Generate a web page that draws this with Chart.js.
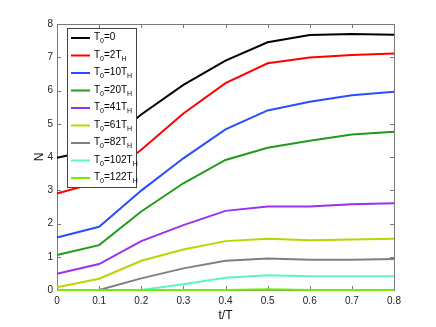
<!DOCTYPE html>
<html><head><meta charset="utf-8">
<script src="https://cdn.jsdelivr.net/npm/chart.js@4"></script>
<style>html,body{margin:0;padding:0;background:#fff}</style></head>
<body>
<canvas id="c" width="436" height="327"></canvas>
<script>
const tValues = [0, 0.1, 0.2, 0.3, 0.4, 0.5, 0.6, 0.7, 0.8];
const xTicks = [0, 0.1, 0.2, 0.3, 0.4, 0.5, 0.6, 0.7, 0.8];
const yTicks = [0, 1, 2, 3, 4, 5, 6, 7, 8];
const legendSub = ['0', '2', '10', '20', '41', '61', '82', '102', '122'];
const N_T0_0   = [3.98, 4.25, 5.28, 6.17, 6.90, 7.45, 7.67, 7.70, 7.68];
const N_T0_2   = [2.90, 3.25, 4.22, 5.31, 6.22, 6.82, 6.99, 7.07, 7.11];
const N_T0_10  = [1.58, 1.90, 2.99, 3.96, 4.83, 5.40, 5.66, 5.86, 5.96];
const N_T0_20  = [1.05, 1.35, 2.36, 3.21, 3.91, 4.28, 4.49, 4.68, 4.76];
const N_T0_41  = [0.49, 0.78, 1.47, 1.95, 2.38, 2.51, 2.51, 2.58, 2.61];
const N_T0_61  = [0.08, 0.34, 0.88, 1.22, 1.47, 1.54, 1.50, 1.52, 1.54];
const N_T0_82  = [0.00, 0.00, 0.35, 0.65, 0.88, 0.95, 0.91, 0.91, 0.93];
const N_T0_102 = [0.00, 0.00, 0.00, 0.17, 0.37, 0.44, 0.41, 0.41, 0.41];
const N_T0_122 = [0.00, 0.00, 0.00, 0.00, 0.00, 0.02, 0.00, 0.00, 0.00];
const seriesList = [N_T0_0, N_T0_2, N_T0_10, N_T0_20, N_T0_41, N_T0_61, N_T0_82, N_T0_102, N_T0_122];
const colors = ['#000000', '#ff0000', '#2a4dff', '#229a1a', '#9a30f0', '#bcd400', '#7f7f7f', '#5ff5c0', '#70f000'];
const FONT = '"Liberation Sans", Arial, sans-serif';

const datasets = seriesList.map((s, i) => ({
  label: legendSub[i],
  data: s.map((v, j) => ({x: tValues[j], y: v})),
  borderColor: colors[i],
  backgroundColor: colors[i],
  borderWidth: 2,
  pointRadius: 0,
  tension: 0,
  fill: false,
  clip: false,
  order: seriesList.length - i
}));

const boxPlugin = {
  id: 'box',
  beforeDatasetsDraw(chart) {
    const ctx = chart.ctx, a = chart.chartArea;
    const xs = chart.scales.x, ys = chart.scales.y;
    ctx.save();
    ctx.strokeStyle = '#7a7a7a';
    ctx.lineWidth = 1;
    ctx.beginPath();
    const L = 4;
    xTicks.forEach(v => {
      const px = Math.round(xs.getPixelForValue(v)) + 0.5;
      ctx.moveTo(px, a.bottom); ctx.lineTo(px, a.bottom - L);
      ctx.moveTo(px, a.top); ctx.lineTo(px, a.top + L);
    });
    yTicks.forEach(v => {
      const py = Math.round(ys.getPixelForValue(v)) + 0.5;
      ctx.moveTo(a.left, py); ctx.lineTo(a.left + L, py);
      ctx.moveTo(a.right, py); ctx.lineTo(a.right - L, py);
    });
    ctx.stroke();
    ctx.strokeRect(Math.round(a.left) + 0.5, Math.round(a.top) + 0.5, Math.round(a.right - a.left), Math.round(a.bottom - a.top));
    ctx.restore();
  },
  afterDatasetsDraw(chart) {
    const ctx = chart.ctx, a = chart.chartArea;
    ctx.save();
    // legend
    const lx = a.left + 10, ly = a.top + 4, lw = 69, lh = 159;
    ctx.fillStyle = '#fff';
    ctx.fillRect(lx, ly, lw, lh);
    ctx.strokeStyle = '#444';
    ctx.lineWidth = 1;
    ctx.strokeRect(Math.round(lx) + 0.5, Math.round(ly) + 0.5, lw, lh);
    chart.data.datasets.forEach((ds, i) => {
      const cy = ly + 10 + i * 17.5;
      ctx.strokeStyle = ds.borderColor;
      ctx.lineWidth = 2;
      ctx.beginPath();
      ctx.moveTo(lx + 4, cy); ctx.lineTo(lx + 23, cy);
      ctx.stroke();
      ctx.fillStyle = '#000';
      ctx.textBaseline = 'alphabetic';
      let x = lx + 27;
      const base = cy + 2;
      const big = '10px ' + FONT, small = '7px ' + FONT;
      ctx.font = big; ctx.fillText('T', x, base); x += ctx.measureText('T').width;
      ctx.font = small; ctx.fillText('0', x, base + 3); x += ctx.measureText('0').width;
      ctx.font = big;
      if (ds.label === '0') {
        ctx.fillText('=0', x, base);
      } else {
        const t = '=' + ds.label + 'T';
        ctx.fillText(t, x, base); x += ctx.measureText(t).width;
        ctx.font = small; ctx.fillText('H', x, base + 3);
      }
    });
    ctx.restore();
  }
};

new Chart(document.getElementById('c'), {
  type: 'line',
  data: { datasets },
  options: {
    responsive: false,
    animation: false,
    layout: { padding: { top: 24, right: 42, left: 32, bottom: 0 } },
    plugins: { legend: { display: false }, tooltip: { enabled: false } },
    scales: {
      x: {
        type: 'linear', min: 0, max: 0.8,
        afterBuildTicks(s) { s.ticks = xTicks.map(v => ({value: v})); },
        afterFit(s) { s.height = 37; },
        grid: { display: false, drawTicks: false },
        border: { display: false },
        ticks: { color: '#222', font: { size: 10, family: FONT }, padding: 5,
          callback: v => String(v) },
        title: { display: true, text: 't/T', color: '#111', font: { size: 12, family: FONT }, padding: { top: 0, bottom: 4 } }
      },
      y: {
        type: 'linear', min: 0, max: 8,
        afterBuildTicks(s) { s.ticks = yTicks.map(v => ({value: v})); },
        afterFit(s) { s.width = 25; },
        grid: { display: false, drawTicks: false },
        border: { display: false },
        ticks: { color: '#222', font: { size: 10, family: FONT }, padding: 4 },
        title: { display: true, text: 'N', color: '#111', font: { size: 12, family: FONT }, padding: { top: 0, bottom: 0 } }
      }
    }
  },
  plugins: [boxPlugin]
});
</script>
</body></html>
